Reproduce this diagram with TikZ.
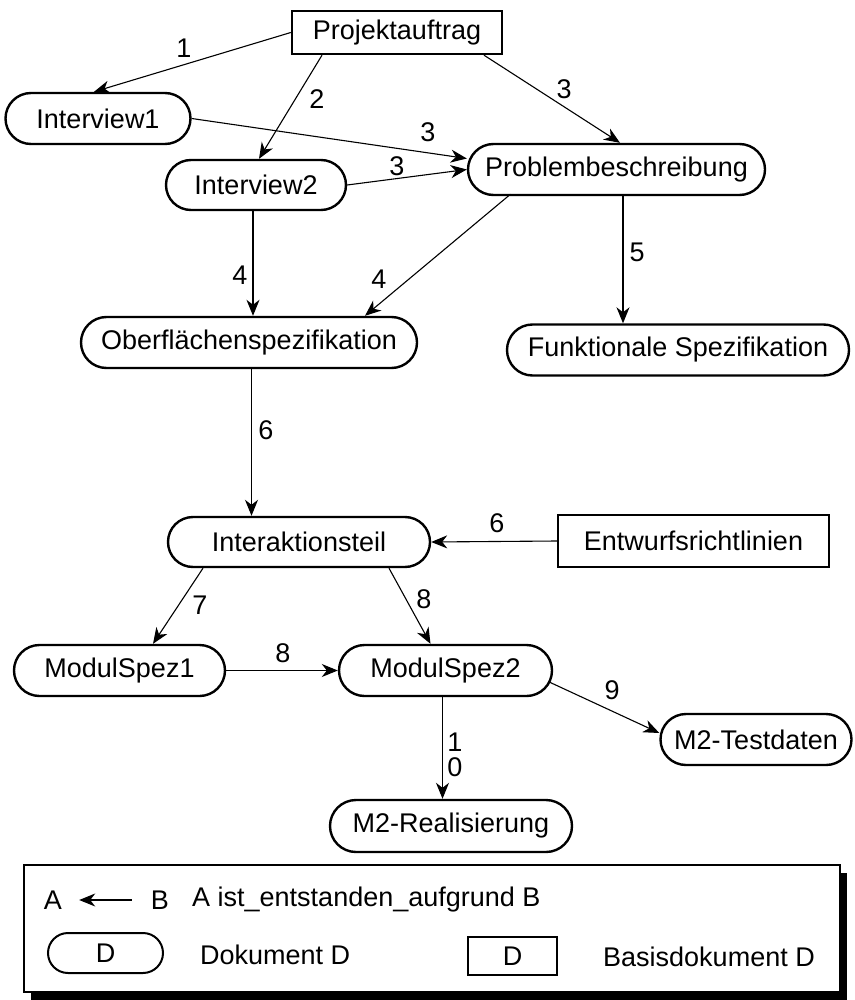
\documentclass[tikz,border=0pt]{standalone}
\usepackage{fontspec}
\setmainfont{Liberation Sans}
\usetikzlibrary{arrows.meta,shapes.misc,shadows}
\begin{document}
\begin{tikzpicture}[x=1pt,y=-1pt,
  font=\fontsize{27}{30}\selectfont,
  doc/.style={draw, line width=2.4pt, rounded rectangle, inner sep=0pt, minimum height=51pt},
  basis/.style={draw, line width=2.4pt, rectangle, inner sep=0pt},
  lbl/.style={inner sep=0pt},
  arr/.style={-{Stealth[length=16pt,width=13pt,inset=5pt]}, line width=1.1pt}]
\useasboundingbox (0,0) rectangle (854,1000);

% documents
\node[basis, minimum width=210pt, minimum height=43pt] (pa) at (397,32.5) {Projektauftrag};
\node[doc, minimum width=185pt] (i1) at (98,118.5) {Interview1};
\node[doc, minimum width=297pt] (pb) at (616.5,169.5) {Problembeschreibung};
\node[doc, minimum width=180pt, minimum height=50pt] (i2) at (256,185) {Interview2};
\node[doc, minimum width=336pt] (ob) at (249,342.5) {Oberflächenspezifikation};
\node[doc, minimum width=342pt] (fs) at (678,350) {Funktionale Spezifikation};
\node[doc, minimum width=262pt, minimum height=50pt] (ia) at (299,542) {Interaktionsteil};
\node[basis, minimum width=271pt, minimum height=52pt] (er) at (693.5,541) {Entwurfsrichtlinien};
\node[doc, minimum width=211pt] (m1) at (119.5,670.5) {ModulSpez1};
\node[doc, minimum width=213pt] (m2) at (445.5,670.5) {ModulSpez2};
\node[doc, minimum width=191pt] (tt) at (756,739.5) {M2-Testdaten};
\node[doc, minimum width=242pt, minimum height=52pt] (mr) at (451,826) {M2-Realisierung};

% derivations
\draw[arr] (pa.west) -- ([xshift=-4pt]i1.north);
\draw[arr] ([xshift=-75pt]pa.south) -- ([xshift=3pt]i2.north);
\draw[arr] ([xshift=87pt]pa.south) -- ([xshift=3.5pt]pb.north);
\draw[arr] (i1.east) -- ([yshift=11pt]pb.west);
\draw[arr] (i2.east) -- (pb.west);
\draw[arr] ([xshift=-3pt]i2.south) -- ([xshift=4pt]ob.north);
\draw[arr] ([xshift=17pt,yshift=2pt]pb.south west) -- ([xshift=116pt]ob.north);
\draw[arr] ([xshift=6.5pt]pb.south) -- ([xshift=-55pt]fs.north);
\draw[arr] ([xshift=2.5pt]ob.south) -- ([xshift=-47.5pt]ia.north);
\draw[arr] (er.west) -- (ia.east);
\draw[arr] ([xshift=-96pt]ia.south) -- ([xshift=33.5pt]m1.north);
\draw[arr] ([xshift=90pt]ia.south) -- ([xshift=-15pt]m2.north);
\draw[arr] (m1.east) -- (m2.west);
\draw[arr] ([xshift=-4pt,yshift=-11.5pt]m2.east) -- ([yshift=6.5pt]tt.west);
\draw[arr] ([xshift=-3pt]m2.south) -- ([xshift=-8.5pt]mr.north);

% step numbers
\node[lbl] (n1) at (184,48) {1};
\node[lbl] (n2) at (317,99) {2};
\node[lbl] (n3a) at (564,89) {3};
\node[lbl] (n3b) at (428,132) {3};
\node[lbl] (n3c) at (397,166) {3};
\node[lbl] (n4a) at (240,275) {4};
\node[lbl] (n4b) at (379,279) {4};
\node[lbl] (n5) at (637,252) {5};
\node[lbl] (n6a) at (266,430) {6};
\node[lbl] (n6b) at (497,523) {6};
\node[lbl] (n7) at (200,605) {7};
\node[lbl] (n8a) at (424,599) {8};
\node[lbl] (n8b) at (283,653) {8};
\node[lbl] (n9) at (612,690) {9};
\node[lbl] (n10a) at (455,742) {1};
\node[lbl] (n10b) at (455,767) {0};

% legend
\node[draw, line width=2pt, fill=white, minimum width=816pt, minimum height=127pt, inner sep=0pt,
      general shadow={fill=black, shadow xshift=7pt, shadow yshift=-8pt}] (leg) at (432,928.5) {};
\node[lbl] (lA) at (53,900) {A};
\node[lbl] (lB) at (160,900) {B};
\draw[arr] ([xshift=-19pt]lB.west) -- ([xshift=17pt]lA.east);
\node[lbl, anchor=west] (lrel) at (192,900) {A ist\_entstanden\_aufgrund B};
\node[doc, line width=2pt, minimum width=115pt, minimum height=40pt] (ldoc) at (105.5,953) {D};
\node[lbl, anchor=west] (ldoct) at (200,955) {Dokument D};
\node[basis, line width=2pt, minimum width=89pt, minimum height=38pt] (lbas) at (512.5,956) {D};
\node[lbl, anchor=west] (lbast) at (603,957) {Basisdokument D};
\end{tikzpicture}
\end{document}
